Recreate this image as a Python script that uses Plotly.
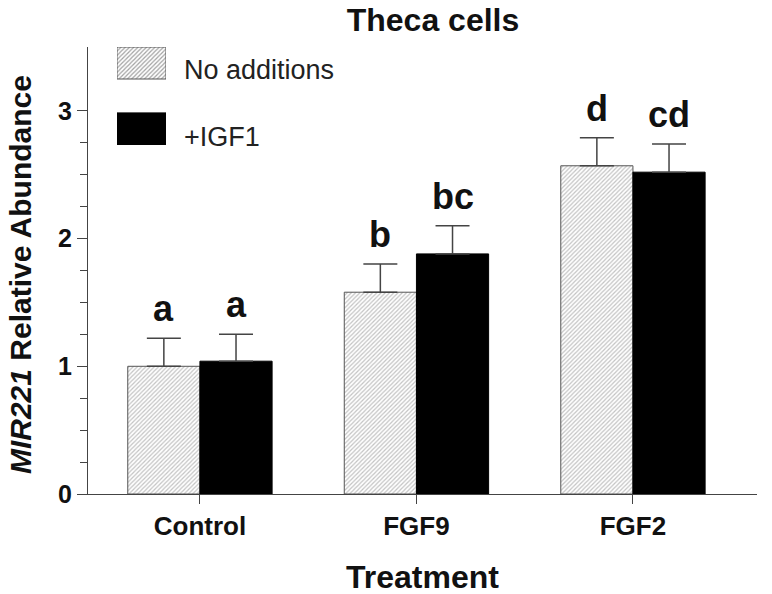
import plotly.graph_objects as go

# ---- data ----
categories = ["Control", "FGF9", "FGF2"]
no_add = [1.00, 1.58, 2.57]
no_add_err = [0.22, 0.22, 0.22]
igf1 = [1.04, 1.88, 2.52]
igf1_err = [0.21, 0.22, 0.22]
letters_no_add = ["a", "b", "d"]
letters_igf1 = ["a", "bc", "cd"]
series_names = ["No additions", "+IGF1"]
y_major = [0, 1, 2, 3]

FONT = "Liberation Sans, Arial, sans-serif"
HATCH = dict(shape="/", fgcolor="#888888", bgcolor="white", size=3, solidity=0.4)

xpos = list(range(len(categories)))
bar_w = 1 / 3

fig = go.Figure()
fig.add_trace(go.Bar(
    x=xpos, y=no_add, name=series_names[0],
    marker=dict(color="white", pattern=HATCH, line=dict(color="#555555", width=1)),
    error_y=dict(type="data", array=no_add_err, arrayminus=[0] * 3, symmetric=False,
                 color="#444444", thickness=1.5, width=17),
    showlegend=False,
))
fig.add_trace(go.Bar(
    x=xpos, y=igf1, name=series_names[1],
    marker=dict(color="black", line=dict(color="black", width=1)),
    error_y=dict(type="data", array=igf1_err, arrayminus=[0] * 3, symmetric=False,
                 color="#444444", thickness=1.5, width=17),
    showlegend=False,
))

# legend boxes on an overlay axis pair
fig.add_trace(go.Bar(
    x=[0, 0], y=[0.327, 0.327], base=[0.673, 0.0], width=[1, 1], offset=[-0.5, -0.5],
    marker=dict(color=["white", "black"],
                pattern=dict(shape=["/", ""], fgcolor="#888888", bgcolor=["white", "black"],
                             size=3, solidity=0.4),
                line=dict(color=["#555555", "black"], width=1)),
    xaxis="x2", yaxis="y2", showlegend=False, hoverinfo="skip",
))

annotations = []
for i in range(len(categories)):
    annotations.append(dict(x=i - bar_w / 2, y=no_add[i] + no_add_err[i], text="<b>%s</b>" % letters_no_add[i],
                            xref="x", yref="y", showarrow=False, yanchor="bottom", yshift=7,
                            font=dict(family=FONT, size=36, color="#111111")))
    annotations.append(dict(x=i + bar_w / 2, y=igf1[i] + igf1_err[i], text="<b>%s</b>" % letters_igf1[i],
                            xref="x", yref="y", showarrow=False, yanchor="bottom", yshift=7,
                            font=dict(family=FONT, size=36, color="#111111")))

# legend labels
annotations.append(dict(x=0.140, y=0.9485, xref="paper", yref="paper", text=series_names[0],
                        showarrow=False, xanchor="left", yanchor="middle",
                        font=dict(family=FONT, size=27, color="#222222")))
annotations.append(dict(x=0.140, y=0.7987, xref="paper", yref="paper", text=series_names[1],
                        showarrow=False, xanchor="left", yanchor="middle",
                        font=dict(family=FONT, size=27, color="#222222")))
# axis titles
annotations.append(dict(x=-0.100, y=0.49, xref="paper", yref="paper",
                        text="<b><i>MIR221</i> Relative Abundance</b>", textangle=-90,
                        showarrow=False, xanchor="center", yanchor="middle",
                        font=dict(family=FONT, size=30, color="#111111")))
annotations.append(dict(x=0.5, y=-0.186, xref="paper", yref="paper",
                        text="<b>Treatment</b>",
                        showarrow=False, xanchor="center", yanchor="middle",
                        font=dict(family=FONT, size=32, color="#111111")))

minor_vals = [v / 4 for v in range(0, 13) if v % 4 != 0]

fig.update_layout(
    width=772, height=594,
    margin=dict(l=88, r=15, t=47, b=100),
    paper_bgcolor="white", plot_bgcolor="white",
    barmode="group", bargap=1 / 3, bargroupgap=0,
    font=dict(family=FONT, color="#111111"),
    title=dict(text="<b>Theca cells</b>", x=433 / 772, xref="container", xanchor="center",
               y=1 - 20 / 594, yref="container", yanchor="middle",
               font=dict(family=FONT, size=32, color="#111111")),
    xaxis=dict(range=[-0.517, 2.573], tickmode="array", tickvals=xpos, ticktext=["<b>%s</b>" % c for c in categories],
               ticks="outside", ticklen=9, tickcolor="#444444", tickwidth=1,
               showline=True, linecolor="#444444", linewidth=1, showgrid=False, zeroline=False,
               tickfont=dict(family=FONT, size=26, color="#111111")),
    yaxis=dict(range=[0, 3.5], tickmode="array", tickvals=y_major, ticktext=["<b>%d</b>" % v for v in y_major],
               ticks="outside", ticklen=10, tickcolor="#444444", tickwidth=1,
               minor=dict(tickmode="array", tickvals=minor_vals, ticks="outside", ticklen=7,
                          tickcolor="#444444", tickwidth=1, showgrid=False),
               showline=True, linecolor="#444444", linewidth=1, showgrid=False, zeroline=False,
               tickfont=dict(family=FONT, size=25, color="#111111")),
    xaxis2=dict(domain=[0.0433, 0.1166], anchor="y2", range=[-0.5, 0.5], visible=False, fixedrange=True),
    yaxis2=dict(domain=[0.781, 1.0], anchor="x2", range=[0, 1], visible=False, fixedrange=True),
    annotations=annotations,
    showlegend=False,
)

fig.write_html("out.html", config={"displayModeBar": False},
               post_script="document.body.style.margin='0';document.body.style.padding='0';")
